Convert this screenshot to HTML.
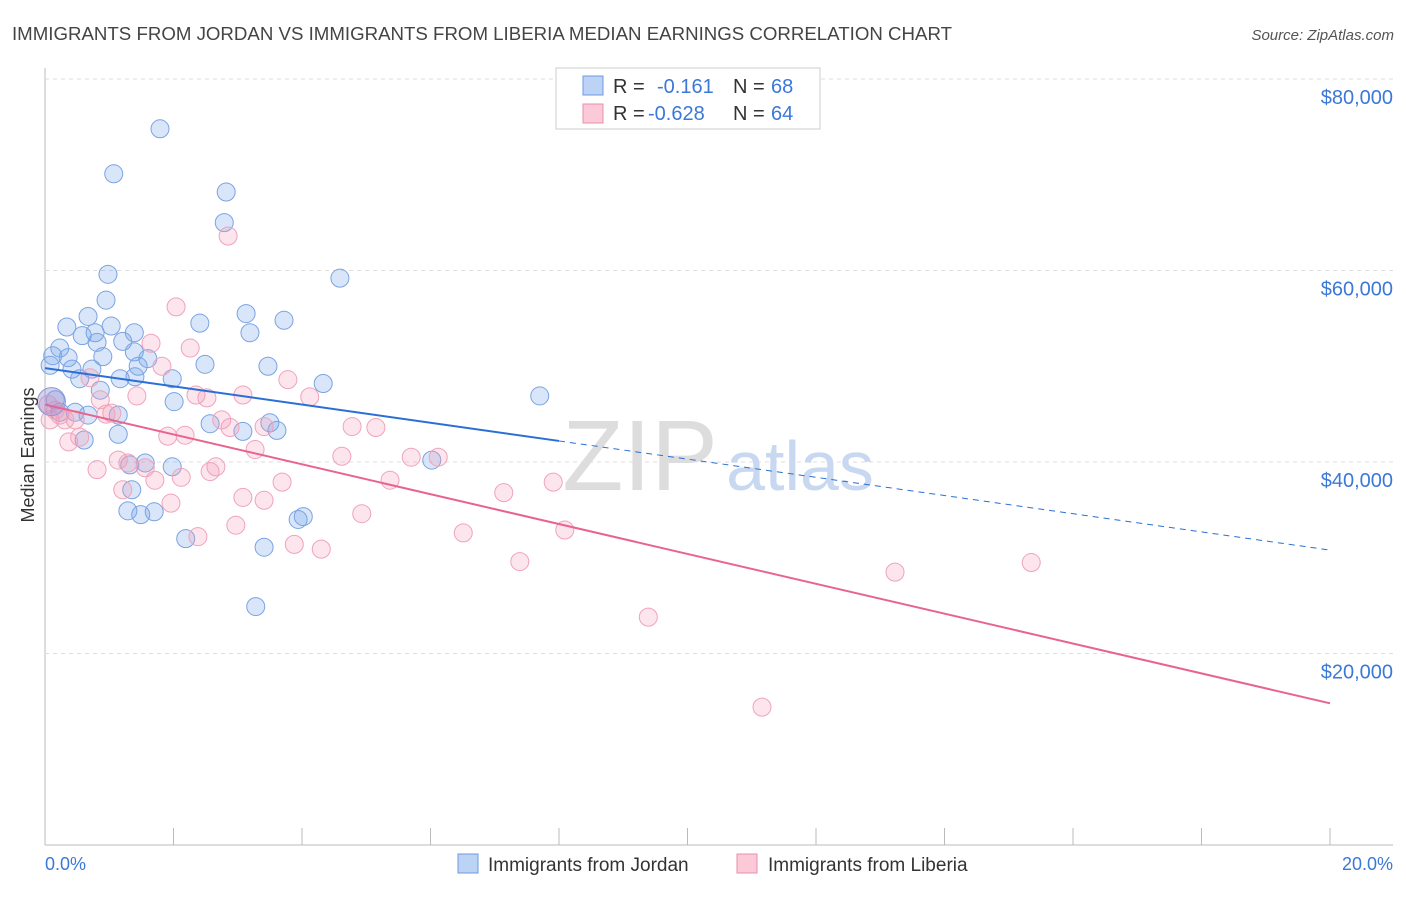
<!DOCTYPE html>
<html><head><meta charset="utf-8"><style>
body{margin:0;background:#fff;font-family:"Liberation Sans",sans-serif;}
svg text{font-family:"Liberation Sans",sans-serif;}
</style></head><body>
<svg id="c" width="1406" height="892">
<text x="12" y="40" font-size="18" fill="#444" textLength="940" lengthAdjust="spacingAndGlyphs">IMMIGRANTS FROM JORDAN VS IMMIGRANTS FROM LIBERIA MEDIAN EARNINGS CORRELATION CHART</text>
<text x="1394" y="40" font-size="15" fill="#555" font-style="italic" text-anchor="end">Source: ZipAtlas.com</text>
<g id="grid"></g>
<text x="640" y="490" font-size="100" fill="#ddd" font-family="Liberation Serif" text-anchor="middle">ZIP</text>
<text x="800" y="490" font-size="70" fill="#c8d8f0" text-anchor="middle">atlas</text>
<g id="pts"></g>
<g id="lines"></g>
<text transform="translate(34,455) rotate(-90)" font-size="18" fill="#333" text-anchor="middle">Median Earnings</text>
<text x="45" y="870" font-size="18" fill="#3b78d8">0.0%</text>
<text x="1393" y="870" font-size="18" fill="#3b78d8" text-anchor="end">20.0%</text>
<g>
<rect x="556" y="68" width="264" height="61" fill="#fff" stroke="#ccc"/>
<rect x="583" y="76" width="20" height="19" fill="#bcd3f5" stroke="#6d9ae0"/>
<rect x="583" y="104" width="20" height="19" fill="#fbc9d8" stroke="#ea8fab"/>
<text x="613" y="93" font-size="20" fill="#333">R = </text><text x="657" y="93" font-size="20" fill="#3b78d8">-0.161</text>
<text x="733" y="93" font-size="20" fill="#333">N = </text><text x="771" y="93" font-size="20" fill="#3b78d8">68</text>
<text x="613" y="120" font-size="20" fill="#333">R = </text><text x="648" y="120" font-size="20" fill="#3b78d8">-0.628</text>
<text x="733" y="120" font-size="20" fill="#333">N = </text><text x="771" y="120" font-size="20" fill="#3b78d8">64</text>
</g>
<g>
<rect x="458" y="854" width="20" height="19" fill="#bcd3f5" stroke="#6d9ae0"/>
<text x="488" y="871" font-size="19" fill="#333">Immigrants from Jordan</text>
<rect x="737" y="854" width="20" height="19" fill="#fbc9d8" stroke="#ea8fab"/>
<text x="768" y="871" font-size="19" fill="#333">Immigrants from Liberia</text>
</g>
</svg>
<script>
const yTicks=[20000,40000,60000,80000];
const yTickLabels=["$20,000","$40,000","$60,000","$80,000"];
const jordanX=[1.79,1.07,2.82,2.79,0.98,4.59,0.95,0.67,0.34,1.03,1.39,0.78,0.58,3.13,3.72,2.41,3.19,0.81,1.21,0.23,0.12,0.36,0.90,1.39,1.60,1.45,2.49,3.47,0.42,0.73,1.40,0.54,1.17,1.98,4.33,0.86,7.70,2.01,0.16,0.47,1.14,0.67,2.57,3.50,3.61,3.08,1.14,0.61,6.02,1.56,1.32,1.98,1.35,1.29,1.70,1.49,4.02,3.94,2.19,3.41,3.28,0.08,0.23];
const jordanY=[74.8,70.1,68.2,65.0,59.6,59.2,56.9,55.2,54.1,54.2,53.5,53.5,53.2,55.5,54.8,54.5,53.5,52.5,52.6,51.9,51.1,50.9,51.0,51.5,50.8,50.0,50.2,50.0,49.7,49.7,48.9,48.7,48.7,48.7,48.2,47.5,46.9,46.3,46.5,45.2,44.9,44.9,44.0,44.1,43.3,43.2,42.9,42.3,40.2,39.9,39.7,39.5,37.1,34.9,34.8,34.5,34.3,34.0,32.0,31.1,24.9,50.1,45.2];
const liberiaX=[2.85,2.04,1.65,2.26,1.82,3.78,3.08,2.35,2.52,4.12,1.43,0.70,0.86,1.04,0.95,2.75,0.23,0.47,2.88,3.41,4.78,5.15,2.18,1.91,0.37,0.54,3.27,4.62,5.70,6.12,0.81,1.14,1.29,1.56,2.66,2.57,2.12,1.71,5.37,3.69,7.91,7.14,1.21,3.08,3.41,1.96,4.93,2.97,8.09,6.51,2.38,3.88,4.30,7.39,15.35,13.23,9.39,11.16,0.08,0.16,0.31,0.05];
const liberiaY=[63.6,56.2,52.4,51.9,50.0,48.6,47.0,47.0,46.7,46.8,46.9,48.8,46.5,45.1,45.0,44.4,44.9,44.4,43.6,43.7,43.7,43.6,42.8,42.7,42.1,42.6,41.3,40.6,40.5,40.5,39.2,40.2,39.9,39.4,39.5,39.0,38.4,38.1,38.1,37.9,37.9,36.8,37.1,36.3,36.0,35.7,34.6,33.4,32.9,32.6,32.2,31.4,30.9,29.6,29.5,28.5,23.8,14.4,44.4,45.4,44.4,46.0];
const jordanTrend=[49.8,30.8];
const liberiaTrend=[46.0,14.8];
const NS="http://www.w3.org/2000/svg";
const X=p=>45+p*64.25;
const Y=k=>845-k*9.575;
function mk(t,a,parent){const e=document.createElementNS(NS,t);for(const k in a)e.setAttribute(k,a[k]);parent.appendChild(e);return e;}
const grid=document.getElementById('grid');
mk('line',{x1:45,y1:68,x2:45,y2:845,stroke:'#bbb'},grid);
mk('line',{x1:45,y1:845,x2:1393,y2:845,stroke:'#bbb'},grid);
for(let i=0;i<=10;i++){const l=mk('line',{x1:X(i*2),y1:828,x2:X(i*2),y2:845,stroke:'#bbb'},grid);

}
yTicks.forEach((v,i)=>{const y=Y(v/1000);
const g=mk('line',{x1:45,y1:y,x2:1393,y2:y,stroke:'#ddd','stroke-dasharray':'4,4'},grid);


const t=mk('text',{x:1393,y:y+25,'font-size':20,fill:'#3b78d8','text-anchor':'end'},grid);t.textContent=yTickLabels[i];

});
const pts=document.getElementById('pts');
jordanX.forEach((x,i)=>{const c=mk('circle',{cx:X(x),cy:Y(jordanY[i]),r:9,fill:'rgba(120,165,235,0.28)',stroke:'#7aa3e3','stroke-width':1},pts);

});
liberiaX.forEach((x,i)=>{const c=mk('circle',{cx:X(x),cy:Y(liberiaY[i]),r:9,fill:'rgba(245,150,180,0.25)',stroke:'#f0a3bb','stroke-width':1},pts);

});
const big=mk('circle',{cx:X(0.1),cy:Y(46.3),r:14,fill:'rgba(150,140,210,0.4)',stroke:'#8a9ad8'},pts);


const L=document.getElementById('lines');
const jm=(jordanTrend[1]-jordanTrend[0])/20;
const j1=mk('line',{x1:X(0),y1:Y(jordanTrend[0]),x2:X(8),y2:Y(jordanTrend[0]+jm*8),stroke:'#2a6fd6','stroke-width':2},L);


const j2=mk('line',{x1:X(8),y1:Y(jordanTrend[0]+jm*8),x2:X(20),y2:Y(jordanTrend[1]),stroke:'#2a6fd6','stroke-width':1,'stroke-dasharray':'6,5'},L);


const p1=mk('line',{x1:X(0),y1:Y(liberiaTrend[0]),x2:X(20),y2:Y(liberiaTrend[1]),stroke:'#e8648f','stroke-width':2},L);


</script>
</body></html>
